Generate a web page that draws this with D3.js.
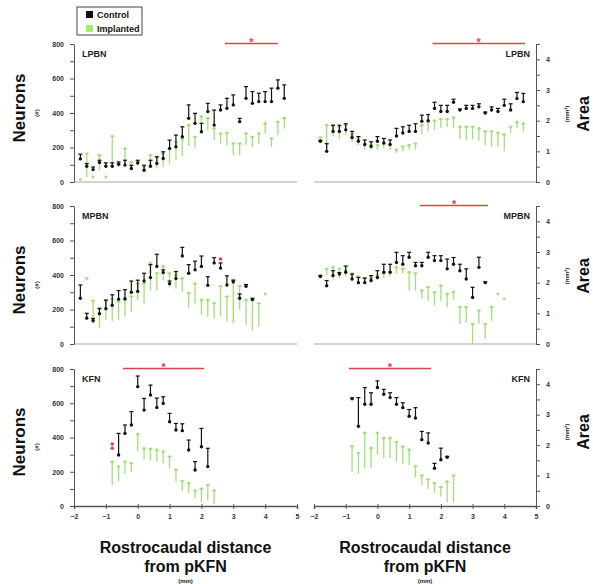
<!DOCTYPE html>
<html>
<head>
<meta charset="utf-8">
<script src="https://cdnjs.cloudflare.com/ajax/libs/d3/7.8.5/d3.min.js"></script>
<style>
body { margin: 0; background: #fff; }
svg { display: block; font-family: "Liberation Sans", Arial, sans-serif; }
.axis text { font-size: 7px; font-weight: bold; fill: #333; }
.axis path, .axis line { stroke: #555; }
</style>
</head>
<body>
<div id="chart"></div>
<script>
//// DATA ////
var xTicks = [-2, -1, 0, 1, 2, 3, 4, 5];
var nuclei = ['LPBN', 'MPBN', 'KFN'];
var seriesNames = ['Control', 'Implanted'];

// rostrocaudal positions (mm from pKFN)
var xLPBN = [-1.8, -1.6, -1.4, -1.2, -1.0, -0.8, -0.6, -0.4, -0.2, 0.0, 0.2, 0.4, 0.6, 0.8, 1.0, 1.2,
             1.4, 1.6, 1.8, 2.0, 2.2, 2.4, 2.6, 2.8, 3.0, 3.2, 3.4, 3.6, 3.8, 4.0, 4.2, 4.4, 4.6];
var xMPBN = [-1.8, -1.6, -1.4, -1.2, -1.0, -0.8, -0.6, -0.4, -0.2, 0.0, 0.2, 0.4, 0.6, 0.8, 1.0, 1.2,
             1.4, 1.6, 1.8, 2.0, 2.2, 2.4, 2.6, 2.8, 3.0, 3.2, 3.4, 3.6, 3.8, 4.0];
var xKFN = [-0.8, -0.6, -0.4, -0.2, 0.0, 0.2, 0.4, 0.6, 0.8, 1.0, 1.2, 1.4, 1.6, 1.8, 2.0, 2.2, 2.4];

// LPBN neurons (#)
var lpbnNeuronsCtrl = [134, 91, 72, 113, 91, 91, 103, 98, 78, 110, 68, 91, 107, 136, 194, 204,
                       262, 369, 340, 291, 408, 330, 417, 427, 447, 350, 485, 456, 466, 466, 466, 544, 485];
var lpbnNeuronsCtrlErr = [27, 16, 15, 13, 20, 20, 13, 28, 19, 16, 29, 35, 39, 39, 49, 68,
                          58, 78, 58, 49, 48, 87, 30, 58, 58, 19, 68, 68, 49, 58, 78, 48, 78];
var lpbnNeuronsImpl = [14, 165, 29, 155, 29, 265, 107, 194, 116, 117, 87, 155, 145, 165, 194, 233,
                       250, 330, 260, 380, 370, 310, 281, 285, 223, 223, 281, 262, 281, 339, 252, 349, 370];
var lpbnNeuronsImplErr = [0, 136, 0, 87, 0, 158, 20, 87, 29, 20, 29, 68, 67, 78, 87, 107,
                          100, 120, 60, 90, 70, 68, 58, 72, 68, 68, 68, 59, 58, 58, 49, 78, 60];

// LPBN area (mm2)
var lpbnAreaCtrl = [1.33, 1.0, 1.65, 1.65, 1.7, 1.45, 1.33, 1.22, 1.16, 1.33, 1.27, 1.22, 1.5, 1.6, 1.65, 1.65,
                    1.98, 2.0, 2.4, 2.3, 2.3, 2.6, 2.35, 2.4, 2.4, 2.45, 2.25, 2.35, 2.3, 2.5, 2.35, 2.72, 2.62];
var lpbnAreaCtrlErr = [0.03, 0.25, 0.2, 0.2, 0.2, 0.2, 0.15, 0.15, 0.15, 0.15, 0.15, 0.15, 0.25, 0.2, 0.2, 0.25,
                       0.2, 0.2, 0.2, 0.2, 0.2, 0.1, 0.03, 0.1, 0.1, 0.1, 0.03, 0.1, 0.1, 0.2, 0.2, 0.2, 0.27];
var lpbnAreaImpl = [1.45, 1.85, 1.85, 1.8, 1.85, 1.55, 1.4, 1.25, 1.2, 1.2, 1.25, 1.25, 1.05, 1.15, 1.2, 1.25,
                    1.85, 1.95, 2.0, 2.05, 2.05, 2.1, 1.8, 1.8, 1.8, 1.75, 1.65, 1.65, 1.6, 1.55, 1.8, 1.95, 1.9];
var lpbnAreaImplErr = [0.1, 0.75, 0.35, 0.4, 0.3, 0.25, 0.2, 0.2, 0.15, 0.15, 0.15, 0.2, 0.1, 0.15, 0.15, 0.2,
                       0.3, 0.3, 0.3, 0.3, 0.25, 0.35, 0.4, 0.45, 0.4, 0.4, 0.45, 0.5, 0.45, 0.55, 0.2, 0.2, 0.25];

// MPBN neurons (#)
var mpbnNeuronsCtrl = [265, 150, 135, 175, 205, 225, 260, 262, 300, 305, 365, 385, 450, 415, 350, 380,
                       510, 410, 430, 450, 340, 470, 440, 342, 360, 265, 335, 258, null, null];
var mpbnNeuronsCtrlErr = [77, 28, 13, 30, 50, 60, 50, 53, 65, 65, 45, 75, 70, 15, 15, 40,
                          50, 50, 50, 60, 50, 30, 30, 53, 10, 25, 10, 7, null, null];
var mpbnNeuronsImpl = [null, null, 250, 210, 250, 260, 245, 255, 275, 350, 350, 470, 410, 450, 410, 400,
                       380, 295, 350, 255, 255, 235, 335, 275, 370, 335, 255, 255, 235, 290];
var mpbnNeuronsImplErr = [null, null, 130, 120, 110, 130, 105, 95, 90, 95, 115, 160, 100, 80, 80, 80,
                          80, 85, 115, 85, 95, 85, 175, 145, 250, 140, 145, 175, 135, 0];

// MPBN area (mm2)
var mpbnAreaCtrl = [2.2, 1.9, 2.23, 2.28, 2.34, 2.12, 2.0, 2.0, 2.07, 2.17, 2.34, 2.34, 2.66, 2.6, 2.83, 2.55,
                    2.55, 2.83, 2.72, 2.72, 2.45, 2.6, 2.39, 2.12, 1.52, 2.5, 2.0, null, null, null];
var mpbnAreaCtrlErr = [0.03, 0.17, 0.16, 0.05, 0.2, 0.16, 0.17, 0.15, 0.16, 0.22, 0.26, 0.26, 0.33, 0.28, 0.16, 0.11,
                       0.11, 0.16, 0.16, 0.16, 0.32, 0.22, 0.21, 0.33, 0.33, 0.33, 0.03, null, null, null];
var mpbnAreaImpl = [2.25, 2.45, 2.5, 2.45, 2.4, 2.3, 2.2, 2.15, 2.15, 2.25, 2.3, 2.35, 2.5, 2.45, 2.34, 2.3,
                    1.74, 1.85, 1.68, 1.9, 1.63, 1.7, 1.2, 1.2, 0.65, 1.09, 0.65, 1.2, 1.63, 1.47];
var mpbnAreaImplErr = [0.05, 0.2, 0.4, 0.3, 0.2, 0.2, 0.2, 0.15, 0.15, 0.15, 0.15, 0.15, 0.2, 0.15, 0.6, 0.56,
                       0.27, 0.44, 0.43, 0.49, 0.43, 0.25, 0.55, 0.5, 0.65, 0.44, 0.49, 0.44, 0, 0];

// KFN neurons (#)
var kfnNeuronsCtrl = [null, 298, 424, 473, 697, 560, 648, 575, 599, 492, 444, 440, 327, 210, 346, 230, null];
var kfnNeuronsCtrlErr = [null, 126, 49, 78, 62, 68, 58, 55, 39, 49, 38, 40, 58, 49, 107, 107, null];
var kfnNeuronsImpl = [259, 230, 259, 249, 420, 337, 333, 327, 317, 288, 212, 145, 134, 89, 100, 122, 89];
var kfnNeuronsImplErr = [137, 85, 70, 49, 100, 67, 68, 67, 67, 68, 67, 56, 56, 44, 78, 89, 78];

// KFN area (mm2)
var kfnAreaCtrl = [3.52, 2.62, 3.34, 3.34, 3.89, 3.67, 3.56, 3.34, 3.23, 2.95, 2.89, 2.18, 2.07, 1.24, 1.52, 1.6, null];
var kfnAreaCtrlErr = [0.03, 0.94, 0.55, 0.38, 0.22, 0.16, 0.16, 0.22, 0.16, 0.22, 0.34, 0.27, 0.33, 0.16, 0.38, 0.03, null];
var kfnAreaImpl = [1.96, 1.74, 2.4, 1.9, 2.4, 2.23, 2.23, 2.1, 1.95, 1.85, 1.3, 1.0, 0.87, 0.75, 0.62, 0.8, 1.0];
var kfnAreaImplErr = [0.83, 0.67, 1.16, 0.66, 0.72, 0.66, 0.66, 0.65, 0.55, 0.5, 0.37, 0.3, 0.31, 0.32, 0.31, 0.68, 0.88];

// significance bars (mm range) and red markers [x, value]
var sigLPBNNeurons = [2.74, 4.4];
var sigLPBNArea = [1.74, 4.65];
var sigMPBNArea = [1.34, 3.49];
var sigKFNNeurons = [-0.46, 2.08];
var sigKFNArea = [-0.9, 1.69];
var redDotsMPBNNeurons = [[2.6, 493]];
var pinkDotsMPBNNeurons = [[-1.6, 380]];
var redDotsKFNNeurons = [[-0.8, 337], [-0.8, 362]];

//// LAYOUT ////
var w = 593;
var h = 584;
var rowTop = [44, 206, 369];
var rowBottom = [182, 344, 506];
var colRange = [[74, 297], [314, 536]];
var ctrlColor = '#111';
var implColor = '#a3de7c';
var sigColor = '#d9474a';

var panels = [
    {row: 0, col: 0, x: xLPBN, ctrl: lpbnNeuronsCtrl, ctrlErr: lpbnNeuronsCtrlErr, impl: lpbnNeuronsImpl, implErr: lpbnNeuronsImplErr, sig: sigLPBNNeurons, dots: []},
    {row: 0, col: 1, x: xLPBN, ctrl: lpbnAreaCtrl, ctrlErr: lpbnAreaCtrlErr, impl: lpbnAreaImpl, implErr: lpbnAreaImplErr, sig: sigLPBNArea, dots: []},
    {row: 1, col: 0, x: xMPBN, ctrl: mpbnNeuronsCtrl, ctrlErr: mpbnNeuronsCtrlErr, impl: mpbnNeuronsImpl, implErr: mpbnNeuronsImplErr, sig: null, dots: redDotsMPBNNeurons, pink: pinkDotsMPBNNeurons},
    {row: 1, col: 1, x: xMPBN, ctrl: mpbnAreaCtrl, ctrlErr: mpbnAreaCtrlErr, impl: mpbnAreaImpl, implErr: mpbnAreaImplErr, sig: sigMPBNArea, dots: []},
    {row: 2, col: 0, x: xKFN, ctrl: kfnNeuronsCtrl, ctrlErr: kfnNeuronsCtrlErr, impl: kfnNeuronsImpl, implErr: kfnNeuronsImplErr, sig: sigKFNNeurons, dots: redDotsKFNNeurons},
    {row: 2, col: 1, x: xKFN, ctrl: kfnAreaCtrl, ctrlErr: kfnAreaCtrlErr, impl: kfnAreaImpl, implErr: kfnAreaImplErr, sig: sigKFNArea, dots: []}
];

var svg = d3.select('#chart')
            .append('svg')
            .attr('width', w)
            .attr('height', h);

var drawSeries = function(g, xscale, yscale, xs, means, errs, isCtrl) {
    var pts = xs.map(function(v, i) {
        return {x: v, m: means[i], e: errs[i]};
    }).filter(function(d) { return d.m !== null && d.m !== undefined; });

    var color = isCtrl ? ctrlColor : implColor;
    var end = function(d) {
        return isCtrl ? d.m + d.e : Math.max(0, d.m - d.e);
    };

    var s = g.append('g');

    // error bars (control up, implanted down)
    s.selectAll('line.bar')
        .data(pts)
        .enter()
        .append('line')
        .attr('class', 'bar')
        .attr('x1', function(d) { return xscale(d.x); })
        .attr('x2', function(d) { return xscale(d.x); })
        .attr('y1', function(d) { return yscale(d.m); })
        .attr('y2', function(d) { return yscale(end(d)); })
        .attr('stroke', color)
        .attr('stroke-width', isCtrl ? 1.2 : 1.3);

    s.selectAll('line.cap')
        .data(pts.filter(function(d) { return d.e > 0.0001; }))
        .enter()
        .append('line')
        .attr('class', 'cap')
        .attr('x1', function(d) { return xscale(d.x) - 2; })
        .attr('x2', function(d) { return xscale(d.x) + 2; })
        .attr('y1', function(d) { return yscale(isCtrl ? end(d) : d.m); })
        .attr('y2', function(d) { return yscale(isCtrl ? end(d) : d.m); })
        .attr('stroke', color)
        .attr('stroke-width', 1.2);

    s.selectAll('circle')
        .data(pts)
        .enter()
        .append('circle')
        .attr('cx', function(d) { return xscale(d.x); })
        .attr('cy', function(d) { return yscale(d.m); })
        .attr('r', isCtrl ? 1.7 : 1.4)
        .attr('fill', color);
};

panels.forEach(function(p) {
    var top = rowTop[p.row];
    var bottom = rowBottom[p.row];

    var xscale = d3.scaleLinear()
                    .domain([-2, 5])
                    .range(colRange[p.col]);

    var yscale = d3.scaleLinear()
                    .domain(p.col === 0 ? [0, 800] : [0, 4.5])
                    .range([bottom, top]);

    var g = svg.append('g');

    // x baseline / axis
    if (p.row === 2) {
        var xaxis = d3.axisBottom(xscale)
                        .tickValues(xTicks)
                        .tickFormat(d3.format('d'))
                        .tickSize(3)
                        .tickPadding(5);
        var ax = g.append('g')
            .attr('class', 'x axis')
            .attr('transform', 'translate(0,' + bottom + ')')
            .call(xaxis);
        ax.select('.domain').attr('stroke', '#888').attr('stroke-width', 1.5);
        ax.selectAll('.tick line').attr('y1', -2).attr('stroke', '#666');
    } else {
        g.append('line')
            .attr('x1', xscale(-2))
            .attr('x2', xscale(5))
            .attr('y1', bottom)
            .attr('y2', bottom)
            .attr('stroke', '#c4c4c4')
            .attr('stroke-width', 1.5);
    }

    // y axis
    if (p.col === 0) {
        var yaxis = d3.axisLeft(yscale)
                        .tickValues(d3.range(0, 801, 100))
                        .tickFormat(function(d) { return d % 200 === 0 ? d : ''; })
                        .tickSize(4)
                        .tickPadding(6)
                        .tickSizeOuter(0);
        g.append('g')
            .attr('class', 'y axis')
            .attr('transform', 'translate(' + colRange[0][0] + ',0)')
            .call(yaxis);
    } else {
        var yaxisR = d3.axisRight(yscale)
                        .tickValues(d3.range(0, 4.51, 0.5))
                        .tickFormat(function(d) { return (Number.isInteger(d) && d <= 4) ? d : ''; })
                        .tickSize(4)
                        .tickPadding(6)
                        .tickSizeOuter(0);
        g.append('g')
            .attr('class', 'y axis')
            .attr('transform', 'translate(' + colRange[1][1] + ',0)')
            .call(yaxisR);
    }

    // nucleus label
    g.append('text')
        .attr('x', p.col === 0 ? 82 : 530)
        .attr('y', top + 12.5)
        .attr('text-anchor', p.col === 0 ? 'start' : 'end')
        .attr('font-size', 9)
        .attr('font-weight', 'bold')
        .attr('fill', '#222')
        .text(nuclei[p.row]);

    // significance bar
    if (p.sig) {
        g.append('line')
            .attr('x1', xscale(p.sig[0]))
            .attr('x2', xscale(p.sig[1]))
            .attr('y1', top - 0.5)
            .attr('y2', top - 0.5)
            .attr('stroke', sigColor)
            .attr('stroke-width', 1.3);
        g.append('text')
            .attr('x', xscale((p.sig[0] + p.sig[1]) / 2))
            .attr('y', top + 2)
            .attr('text-anchor', 'middle')
            .attr('font-size', 11)
            .attr('font-weight', 'bold')
            .attr('fill', sigColor)
            .text('*');
    }

    drawSeries(g, xscale, yscale, p.x, p.impl, p.implErr, false);
    drawSeries(g, xscale, yscale, p.x, p.ctrl, p.ctrlErr, true);

    g.selectAll('circle.red')
        .data(p.dots)
        .enter()
        .append('circle')
        .attr('class', 'red')
        .attr('cx', function(d) { return xscale(d[0]); })
        .attr('cy', function(d) { return yscale(d[1]); })
        .attr('r', 1.8)
        .attr('fill', sigColor);

    if (p.pink) {
        g.selectAll('circle.pink')
            .data(p.pink)
            .enter()
            .append('circle')
            .attr('class', 'pink')
            .attr('cx', function(d) { return xscale(d[0]); })
            .attr('cy', function(d) { return yscale(d[1]); })
            .attr('r', 1.8)
            .attr('fill', '#f0b8b8');
    }
});

//// AXIS TITLES ////
var neuronsY = [108, 280, 442];
var areaY = [114, 276, 432];

neuronsY.forEach(function(cy) {
    svg.append('text')
        .attr('transform', 'translate(19,' + cy + ') rotate(-90)')
        .attr('dy', '0.36em')
        .attr('text-anchor', 'middle')
        .attr('font-size', 17)
        .attr('font-weight', 'bold')
        .attr('fill', '#111')
        .text('Neurons');
    svg.append('text')
        .attr('transform', 'translate(37,' + (cy + 5) + ') rotate(-90)')
        .attr('dy', '0.36em')
        .attr('text-anchor', 'middle')
        .attr('font-size', 6)
        .attr('font-weight', 'bold')
        .attr('fill', '#222')
        .text('(#)');
});

areaY.forEach(function(cy) {
    svg.append('text')
        .attr('transform', 'translate(583,' + cy + ') rotate(-90)')
        .attr('dy', '0.36em')
        .attr('text-anchor', 'middle')
        .attr('font-size', 16)
        .attr('font-weight', 'bold')
        .attr('fill', '#111')
        .text('Area');
    svg.append('text')
        .attr('transform', 'translate(567,' + cy + ') rotate(-90)')
        .attr('dy', '0.36em')
        .attr('text-anchor', 'middle')
        .attr('font-size', 6)
        .attr('font-weight', 'bold')
        .attr('fill', '#222')
        .text('(mm\u00b2)');
});

colRange.forEach(function(r) {
    var cx = (r[0] + r[1]) / 2;
    svg.append('text')
        .attr('x', cx).attr('y', 553)
        .attr('text-anchor', 'middle')
        .attr('font-size', 16)
        .attr('font-weight', 'bold')
        .attr('fill', '#111')
        .text('Rostrocaudal distance');
    svg.append('text')
        .attr('x', cx).attr('y', 572)
        .attr('text-anchor', 'middle')
        .attr('font-size', 16)
        .attr('font-weight', 'bold')
        .attr('fill', '#111')
        .text('from pKFN');
    svg.append('text')
        .attr('x', cx).attr('y', 583)
        .attr('text-anchor', 'middle')
        .attr('font-size', 6)
        .attr('font-weight', 'bold')
        .attr('fill', '#222')
        .text('(mm)');
});

//// LEGEND ////
var legend = svg.append('g').attr('transform', 'translate(77,7)');
legend.append('rect')
    .attr('width', 65).attr('height', 28)
    .attr('fill', '#fff')
    .attr('stroke', '#444');
legend.selectAll('rect.key')
    .data(seriesNames)
    .enter()
    .append('rect')
    .attr('class', 'key')
    .attr('x', 9)
    .attr('y', function(d, i) { return 4 + i * 14; })
    .attr('width', 7).attr('height', 7)
    .attr('fill', function(d, i) { return i === 0 ? ctrlColor : '#9ef06e'; });
legend.selectAll('text')
    .data(seriesNames)
    .enter()
    .append('text')
    .attr('x', 20)
    .attr('y', function(d, i) { return 10.5 + i * 14; })
    .attr('font-size', 9)
    .attr('font-weight', 'bold')
    .attr('fill', '#111')
    .text(function(d) { return d; });
</script>
</body>
</html>
